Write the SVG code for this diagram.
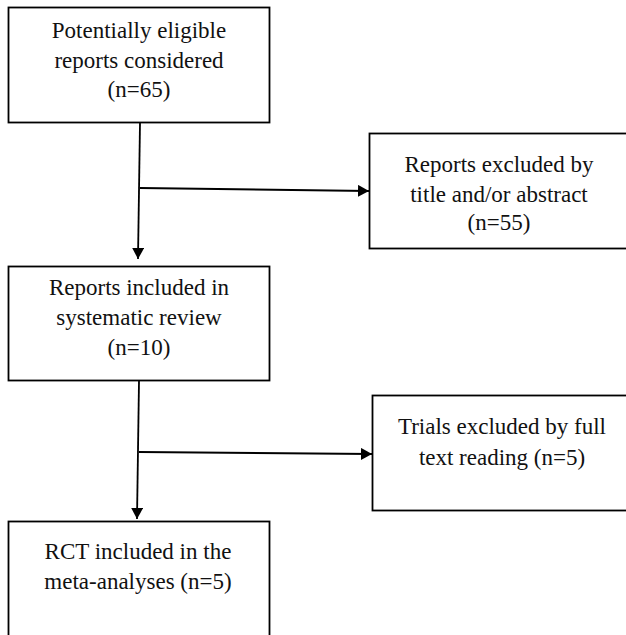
<svg xmlns="http://www.w3.org/2000/svg" width="626" height="635" viewBox="0 0 626 635">
<defs>
<marker id="ah" viewBox="0 0 11 12" refX="11" refY="6" markerWidth="11" markerHeight="12" markerUnits="userSpaceOnUse" orient="auto">
<path d="M0,0 L11,6 L0,12 Z" fill="#000"/>
</marker>
<style>
.box{fill:#fff;stroke:#000;stroke-width:1.8}
.t{font-family:"Liberation Serif","Times New Roman",serif;font-size:23px;fill:#111;text-anchor:middle}
.c{stroke:#000;stroke-width:1.8;fill:none}
</style>
</defs>
<rect width="626" height="635" fill="#fff"/>
<g id="n1">
<rect class="box" x="8.5" y="7.5" width="261" height="115"/>
<text class="t" x="139" y="38">Potentially eligible</text>
<text class="t" x="139" y="68">reports considered</text>
<text class="t" x="139" y="97">(n=65)</text>
</g>
<g id="n2">
<rect class="box" x="369.5" y="133.5" width="262" height="115"/>
<text class="t" x="499" y="172">Reports excluded by</text>
<text class="t" x="499" y="202">title and/or abstract</text>
<text class="t" x="499" y="230">(n=55)</text>
</g>
<g id="n3">
<rect class="box" x="8.5" y="266.5" width="261" height="114"/>
<text class="t" x="139" y="295">Reports included in</text>
<text class="t" x="139" y="325">systematic review</text>
<text class="t" x="139" y="355">(n=10)</text>
</g>
<g id="n4">
<rect class="box" x="372.5" y="395.5" width="262" height="115"/>
<text class="t" x="502" y="434">Trials excluded by full</text>
<text class="t" x="502" y="465">text reading (n=5)</text>
</g>
<g id="n5">
<rect class="box" x="8.5" y="521.5" width="261" height="120"/>
<text class="t" x="138" y="559">RCT included in the</text>
<text class="t" x="138" y="589">meta-analyses (n=5)</text>
</g>
<g id="connectors">
<path class="c" d="M140,123 L138,259" marker-end="url(#ah)"/>
<path class="c" d="M140,188 L369,191" marker-end="url(#ah)"/>
<path class="c" d="M139,381 L137,519" marker-end="url(#ah)"/>
<path class="c" d="M139,452 L372,454" marker-end="url(#ah)"/>
</g>
</svg>
